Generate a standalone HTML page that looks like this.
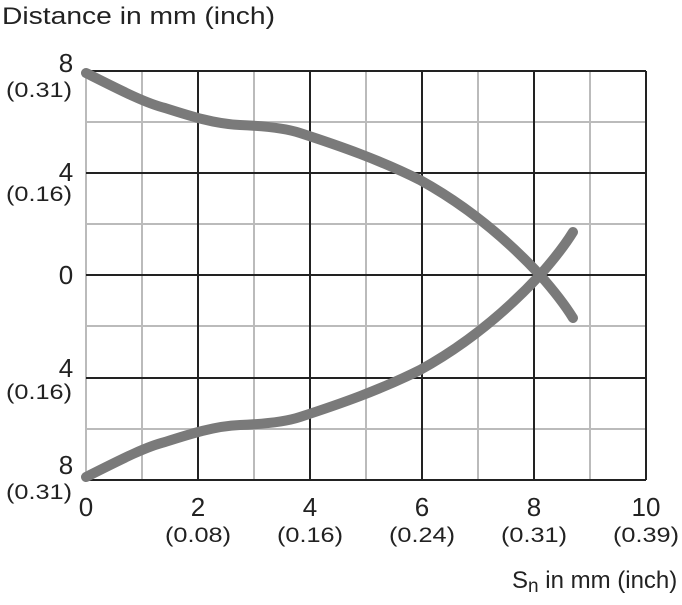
<!DOCTYPE html>
<html><head><style>body{margin:0;background:#fff}</style></head><body>
<svg width="682" height="600" xmlns="http://www.w3.org/2000/svg" font-family="Liberation Sans, sans-serif">
<g stroke="#bbb" stroke-width="2">
<line x1="142" y1="71" x2="142" y2="480"/><line x1="254" y1="71" x2="254" y2="480"/><line x1="366" y1="71" x2="366" y2="480"/><line x1="478" y1="71" x2="478" y2="480"/><line x1="590" y1="71" x2="590" y2="480"/>
<line x1="86" y1="122" x2="646" y2="122"/><line x1="86" y1="224" x2="646" y2="224"/><line x1="86" y1="326" x2="646" y2="326"/><line x1="86" y1="429" x2="646" y2="429"/>
<line x1="86" y1="71" x2="86" y2="480"/>
</g>
<g stroke="#222" stroke-width="2">
<line x1="198" y1="71" x2="198" y2="480"/><line x1="310" y1="71" x2="310" y2="480"/><line x1="422" y1="71" x2="422" y2="480"/><line x1="534" y1="71" x2="534" y2="480"/><line x1="646" y1="71" x2="646" y2="480"/>
<line x1="86" y1="71" x2="646" y2="71"/><line x1="86" y1="173" x2="646" y2="173"/><line x1="86" y1="275" x2="646" y2="275"/><line x1="86" y1="378" x2="646" y2="378"/><line x1="86" y1="480" x2="646" y2="480"/>
</g>
<g fill="none" stroke="#7a7a7a" stroke-width="10" stroke-linecap="round" stroke-linejoin="round">
<path d="M86,73 C120,90 145,103 165,108 C190,116 215,124 240,125 C265,126 285,128 300,133 C340,146 380,160 420,180 C460,202 500,232 540,275 C555,292 565,305 573,318"/>
<path d="M86,477 C120,460 145,447 165,442 C190,434 215,426 240,425 C265,424 285,422 300,417 C340,404 380,390 420,370 C460,348 500,318 540,275 C555,258 565,245 573,232"/>
</g>
<g fill="#222">
<text x="2" y="24" font-size="24" textLength="273" lengthAdjust="spacingAndGlyphs">Distance in mm (inch)</text>
<text x="66" y="72" font-size="26" text-anchor="middle">8</text>
<text x="6" y="97" font-size="21" textLength="66" lengthAdjust="spacingAndGlyphs">(0.31)</text>
<text x="66" y="181" font-size="26" text-anchor="middle">4</text>
<text x="6" y="201" font-size="21" textLength="66" lengthAdjust="spacingAndGlyphs">(0.16)</text>
<text x="66" y="284" font-size="26" text-anchor="middle">0</text>
<text x="66" y="377" font-size="26" text-anchor="middle">4</text>
<text x="6" y="399" font-size="21" textLength="66" lengthAdjust="spacingAndGlyphs">(0.16)</text>
<text x="66" y="474" font-size="26" text-anchor="middle">8</text>
<text x="6" y="499" font-size="21" textLength="66" lengthAdjust="spacingAndGlyphs">(0.31)</text>
<text x="86" y="516" font-size="26" text-anchor="middle">0</text>
<text x="198" y="516" font-size="26" text-anchor="middle">2</text>
<text x="310" y="516" font-size="26" text-anchor="middle">4</text>
<text x="422" y="516" font-size="26" text-anchor="middle">6</text>
<text x="534" y="516" font-size="26" text-anchor="middle">8</text>
<text x="646" y="516" font-size="26" text-anchor="middle">10</text>
<text x="165" y="542" font-size="21" textLength="66" lengthAdjust="spacingAndGlyphs">(0.08)</text>
<text x="277" y="542" font-size="21" textLength="66" lengthAdjust="spacingAndGlyphs">(0.16)</text>
<text x="389" y="542" font-size="21" textLength="66" lengthAdjust="spacingAndGlyphs">(0.24)</text>
<text x="501" y="542" font-size="21" textLength="66" lengthAdjust="spacingAndGlyphs">(0.31)</text>
<text x="613" y="542" font-size="21" textLength="66" lengthAdjust="spacingAndGlyphs">(0.39)</text>
<text x="512" y="588" font-size="24">S<tspan font-size="19" dy="4">n</tspan><tspan dy="-4"> in mm (inch)</tspan></text>
</g>
</svg>
</body></html>
